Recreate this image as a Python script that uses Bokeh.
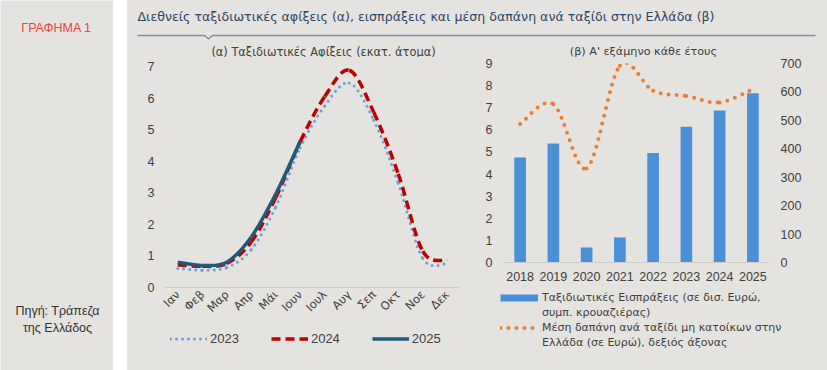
import numpy as np
from bokeh.plotting import figure
from bokeh.models import Range1d, LinearAxis, FixedTicker, Label, Legend, LegendItem
from bokeh.layouts import row, column
from bokeh.embed import file_html
from bokeh.resources import INLINE

# ---------------- data ----------------
months = ['Ιαν', 'Φεβ', 'Μαρ', 'Απρ', 'Μάι', 'Ιουν', 'Ιουλ', 'Αυγ', 'Σεπ', 'Οκτ', 'Νοε', 'Δεκ']
arrivals_2023 = [0.60, 0.55, 0.63, 1.20, 2.55, 4.43, 5.75, 6.48, 5.30, 3.30, 0.92, 0.76]
arrivals_2024 = [0.72, 0.67, 0.76, 1.44, 2.85, 4.62, 6.05, 6.88, 5.55, 3.60, 1.15, 0.86]
arrivals_2025 = [0.80, 0.70, 0.80, 1.60, 2.96, 4.64]

years = ['2018', '2019', '2020', '2021', '2022', '2023', '2024', '2025']
receipts = [4.75, 5.38, 0.68, 1.13, 4.95, 6.14, 6.88, 7.65]
spend_per_trip = [487, 557, 331, 692, 604, 586, 563, 610]

title_text = "Διεθνείς ταξιδιωτικές αφίξεις (α), εισπράξεις και μέση δαπάνη ανά ταξίδι στην Ελλάδα (β)"
sub_a = "(α) Ταξιδιωτικές Αφίξεις (εκατ. άτομα)"
sub_b = "(β) Α' εξάμηνο κάθε έτους"
legend_a = ['2023', '2024', '2025']
legend_b = ["Ταξιδιωτικές Εισπράξεις (σε δισ. Ευρώ,", "συμπ. κρουαζιέρας)",
            "Μέση δαπάνη ανά ταξίδι μη κατοίκων στην", "Ελλάδα (σε Ευρώ), δεξιός άξονας"]

# ---------------- style ----------------
BG = "#e5e3df"
FONT = "Liberation Sans"
WFONT = "DejaVu Sans"
TXT = "#404040"
C2023 = "#6f9fd8"
C2024 = "#c00000"
C2025 = "#1f5a7a"
CBAR = "#4a90d9"
CORG = "#ed7d31"


def deco_fig(w, h, x0, x1, y0, y1, bg=BG):
    f = figure(width=w, height=h, x_range=Range1d(x0, x1), y_range=Range1d(y0, y1),
               output_backend="svg", toolbar_location=None,
               x_axis_location=None, y_axis_location=None,
               min_border=0, min_border_left=0, min_border_right=0,
               min_border_top=0, min_border_bottom=0, frame_align=False)
    f.background_fill_color = bg
    f.border_fill_color = bg
    f.outline_line_color = None
    f.xgrid.visible = False
    f.ygrid.visible = False
    return f


def smooth(p, xs, ys, **kw):
    xs = np.asarray(xs, float)
    ys = np.asarray(ys, float)
    n = len(xs)
    px = np.concatenate([[xs[0]], xs, [xs[-1]]])
    py = np.concatenate([[ys[0]], ys, [ys[-1]]])
    x0, y0 = px[1:n], py[1:n]
    x1, y1 = px[2:n + 1], py[2:n + 1]
    cx0 = x0 + (px[2:n + 1] - px[0:n - 1]) / 6
    cy0 = y0 + (py[2:n + 1] - py[0:n - 1]) / 6
    cx1 = x1 - (px[3:n + 2] - px[1:n]) / 6
    cy1 = y1 - (py[3:n + 2] - py[1:n]) / 6
    return p.bezier(x0=x0, y0=y0, x1=x1, y1=y1, cx0=cx0, cy0=cy0, cx1=cx1, cy1=cy1, **kw)


def style_axes(p):
    for ax in p.axis:
        ax.major_tick_line_color = None
        ax.minor_tick_line_color = None
        ax.major_tick_out = 0
        ax.major_tick_in = 0
        ax.major_label_text_font = FONT
        ax.major_label_text_font_size = "12.5px"
        ax.major_label_text_color = TXT
        ax.axis_line_color = None
    p.xaxis.axis_line_color = "#cfcdc9"
    p.xgrid.visible = False
    p.ygrid.visible = False
    p.background_fill_color = BG
    p.border_fill_color = BG
    p.outline_line_color = None


def txt(x, y, s, size="12px", color=TXT, align="center", font=FONT):
    return Label(x=x, y=y, text=s, text_align=align, text_baseline="middle",
                 text_font=font, text_font_size=size, text_color=color)


# ---------------- left panel ----------------
left = deco_fig(113, 370, 0, 113, 370, 0)
left.add_layout(txt(56, 27, "ΓΡΑΦΗΜΑ 1", size="12.5px", color="#e8463a"))
left.add_layout(txt(57, 310, "Πηγή: Τράπεζα", size="12.5px", color="#333333"))
left.add_layout(txt(57, 327, "της Ελλάδος", size="12.5px", color="#333333"))

strip = deco_fig(14, 370, 113, 127, 370, 0, bg="#ffffff")

# ---------------- title + subtitles ----------------
tfig = deco_fig(700, 57, 127, 827, 57, 0)
tfig.add_layout(txt(137, 16, title_text, size="12.6px", color="#2f4562", align="left", font=WFONT))
tfig.line(x=[137, 204, 208, 212, 815], y=[35, 35, 38.5, 35, 35], line_color="#7f8fa6", line_width=1.5)
tfig.add_layout(txt(323, 51, sub_a, size="11.4px", font=WFONT))
tfig.add_layout(txt(643, 51, sub_b, size="11.2px", font=WFONT))

# ---------------- chart A ----------------
pa = figure(width=338, height=268, x_range=Range1d(-0.5, 11.5), y_range=Range1d(0, 7),
            output_backend="svg", toolbar_location=None, frame_align=False,
            min_border_left=38, min_border_right=6, min_border_top=9, min_border_bottom=38)
pa.yaxis.ticker = FixedTicker(ticks=list(range(0, 8)))
pa.xaxis.ticker = FixedTicker(ticks=list(range(12)))
pa.xaxis.major_label_overrides = {i: m for i, m in enumerate(months)}
pa.xaxis.major_label_orientation = np.pi / 4
style_axes(pa)
pa.xaxis.major_label_text_font = WFONT
pa.xaxis.major_label_text_font_size = "11.5px"
pa.yaxis.major_label_standoff = 11
pa.xaxis.major_label_standoff = 5

mx = np.arange(12)
smooth(pa, mx, arrivals_2023, line_color=C2023, line_width=3, line_dash="0 6", line_cap="round")
smooth(pa, mx, arrivals_2024, line_color=C2024, line_width=3.5, line_dash="9 5")
smooth(pa, mx[:len(arrivals_2025)], arrivals_2025, line_color=C2025, line_width=3.5)

# legend A (own panel below chart A)
lga_fig = deco_fig(338, 45, 127, 465, 370, 325)
r1 = lga_fig.line(x=[np.nan], y=[np.nan], line_color=C2023, line_width=3, line_dash="0 6", line_cap="round")
r2 = lga_fig.line(x=[np.nan], y=[np.nan], line_color=C2024, line_width=3.5, line_dash="9 5")
r3 = lga_fig.line(x=[np.nan], y=[np.nan], line_color=C2025, line_width=3.5)
lga = Legend(items=[LegendItem(label=legend_a[0], renderers=[r1]),
                    LegendItem(label=legend_a[1], renderers=[r2]),
                    LegendItem(label=legend_a[2], renderers=[r3])],
             orientation="horizontal", location=(43, 24), glyph_width=37, glyph_height=15,
             label_standoff=3, spacing=32, padding=0, margin=0,
             border_line_color=None, background_fill_alpha=0,
             label_text_font=FONT, label_text_font_size="13px", label_text_color=TXT)
lga_fig.add_layout(lga)

# ---------------- chart B ----------------
pb = figure(width=362, height=233, x_range=Range1d(-0.5, 7.5), y_range=Range1d(0, 9),
            output_backend="svg", toolbar_location=None, frame_align=False,
            min_border_left=38, min_border_right=58, min_border_top=6, min_border_bottom=28)
pb.extra_y_ranges = {"right": Range1d(0, 700)}
pb.add_layout(LinearAxis(y_range_name="right", ticker=FixedTicker(ticks=list(range(0, 701, 100)))), "right")
pb.yaxis[0].ticker = FixedTicker(ticks=list(range(0, 10)))
pb.xaxis.ticker = FixedTicker(ticks=list(range(8)))
pb.xaxis.major_label_overrides = {i: y for i, y in enumerate(years)}
style_axes(pb)
for ax in pb.yaxis:
    ax.major_label_standoff = 11
pb.xaxis.major_label_standoff = 9

yx = np.arange(8)
pb.vbar(x=yx, top=receipts, width=0.35, fill_color=CBAR, line_color=None)
smooth(pb, yx, spend_per_trip, y_range_name="right", line_color=CORG, line_width=4,
       line_dash="0 8", line_cap="round")

# legend B (own panel below chart B); continuation lines carry no glyph
lgb_fig = deco_fig(362, 80, 465, 827, 370, 290)
b1 = lgb_fig.line(x=[np.nan], y=[np.nan], line_color=CBAR, line_width=7)
b2 = lgb_fig.line(x=[np.nan], y=[np.nan], line_color=CORG, line_width=4, line_dash="0 8", line_cap="round")
bn = lgb_fig.line(x=[np.nan], y=[np.nan], line_alpha=0)
lgb = Legend(items=[LegendItem(label=legend_b[0], renderers=[b1]),
                    LegendItem(label=legend_b[1], renderers=[bn]),
                    LegendItem(label=legend_b[2], renderers=[b2]),
                    LegendItem(label=legend_b[3], renderers=[bn])],
             orientation="vertical", location=(35, 20), glyph_width=38, glyph_height=15,
             label_standoff=4, spacing=0, padding=0, margin=0,
             border_line_color=None, background_fill_alpha=0,
             label_text_font=WFONT, label_text_font_size="11px", label_text_color=TXT)
lgb_fig.add_layout(lgb)

col_a = column(pa, lga_fig, spacing=0, styles={"background-color": BG})
col_b = column(pb, lgb_fig, spacing=0, styles={"background-color": BG})
main = column(tfig, row(col_a, col_b, spacing=0, styles={"background-color": BG}),
              spacing=0, styles={"background-color": BG})
layout = row(left, strip, main, spacing=0)
open("out.html", "w").write(file_html(layout, INLINE))
